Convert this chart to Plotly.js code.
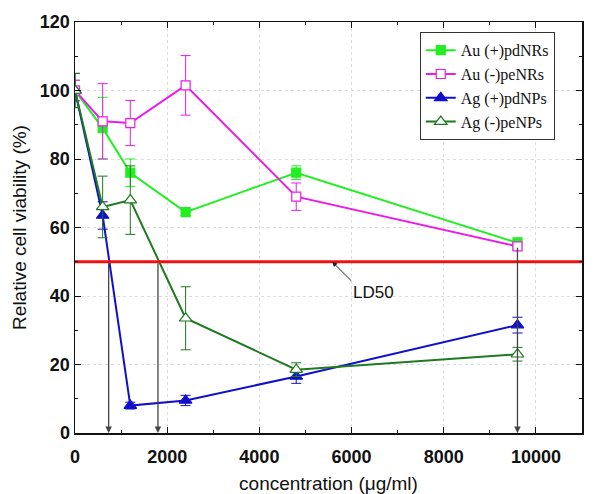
<!DOCTYPE html>
<html><head><meta charset="utf-8">
<script src="https://cdn.plot.ly/plotly-3.0.1.min.js"></script>
<style>body{margin:0;background:#fff}#c{width:600px;height:494px}</style>
</head><body><div id="c"></div>
<script>
const conc = [0, 600, 1200, 2400, 4800, 9600];
const auPlus = [100, 89, 76, 64.5, 76, 55.5];
const auPlusErr = [3, 9, 4, 1, 2, 1.5];
const auMinus = [100, 91, 90.5, 101.5, 69, 54.5];
const auMinusErr = [3, 11, 6.6, 8.7, 4, 1];
const agPlus = [100, 63.5, 8, 9.5, 16.5, 31.5];
const agPlusErr = [5, 4, 1, 1.5, 2, 2.3];
const agMinus = [100, 66, 68, 33.5, 18.5, 23];
const agMinusErr = [5, 9, 10, 9.2, 2, 2];
const ld50 = 50;
const ld50Cross = [730, 1800, 9600];
const ld50Top = [50, 50, 54.5];
const names = ['Au (+)pdNRs', 'Au (-)peNRs', 'Ag (+)pdNPs', 'Ag (-)peNPs'];

function tr(y, e, name, color, symbol, fill) {
  return {x: conc, y: y, name: name, type: 'scatter', mode: 'lines+markers',
    line: {color: color, width: 2},
    marker: {symbol: symbol, size: symbol.indexOf('triangle') === 0 ? 11 : 9, color: fill ? color : '#fff', line: {color: color, width: 1.2}},
    error_y: {type: 'data', array: e, visible: true, color: color, thickness: 1, width: 5}};
}
const data = [
  tr(auPlus, auPlusErr, names[0], '#22ee22', 'square', true),
  tr(auMinus, auMinusErr, names[1], '#e81ee8', 'square', false),
  tr(agPlus, agPlusErr, names[2], '#1010cc', 'triangle-up', true),
  tr(agMinus, agMinusErr, names[3], '#1e7a1e', 'triangle-up', false),
  {x: [0, 11000], y: [ld50, ld50], mode: 'lines', line: {color: '#ee1111', width: 3}, showlegend: false, hoverinfo: 'skip'}
];
const ann = ld50Cross.map((xv, i) => ({x: xv, y: 0, ax: xv, ay: ld50Top[i], xref: 'x', yref: 'y', axref: 'x', ayref: 'y',
  text: '', showarrow: true, arrowhead: 2, arrowsize: 1, arrowwidth: 1.3, arrowcolor: '#444'}));
ann.push({x: 5580, y: 50, ax: 5990, ay: 44.5, xref: 'x', yref: 'y', axref: 'x', ayref: 'y', text: 'LD50',
  showarrow: true, arrowhead: 2, arrowsize: 1, arrowwidth: 1, arrowcolor: '#222', xanchor: 'left', yanchor: 'top',
  font: {family: 'Liberation Sans, Arial', size: 17, color: '#111'}});
const tickFont = {family: 'Liberation Sans, Arial', size: 18, color: '#111', weight: 'bold'};
const layout = {
  width: 600, height: 494, margin: {l: 75, r: 18, t: 22, b: 61},
  paper_bgcolor: '#fff', plot_bgcolor: '#fff', showlegend: true,
  xaxis: {range: [0, 11000], dtick: 2000, tick0: 0, tickformat: 'd', showline: true, linecolor: '#111', linewidth: 1.5, mirror: 'ticks',
    ticks: 'inside', ticklen: 6, tickcolor: '#111', tickfont: tickFont, zeroline: false, ticklabelstandoff: 7,
    showgrid: true, gridcolor: '#ddd', griddash: 'dot',
    minor: {dtick: 1000, ticks: 'inside', ticklen: 3, tickcolor: '#111', showgrid: false},
    title: {text: 'concentration (μg/ml)', font: {family: 'Liberation Sans, Arial', size: 19, color: '#111'}, standoff: 12}},
  yaxis: {range: [0, 120], dtick: 20, showline: true, linecolor: '#111', linewidth: 1.5, mirror: 'ticks',
    ticks: 'inside', ticklen: 6, tickcolor: '#111', tickfont: tickFont, zeroline: false,
    showgrid: true, gridcolor: '#ddd', griddash: 'dot',
    minor: {dtick: 10, ticks: 'inside', ticklen: 3, tickcolor: '#111', showgrid: false},
    title: {text: 'Relative cell viability (%)', font: {family: 'Liberation Sans, Arial', size: 19, color: '#111'}, standoff: 8}},
  legend: {x: 0.68, y: 0.975, xanchor: 'left', yanchor: 'top', bgcolor: '#fff', bordercolor: '#333', borderwidth: 1,
    font: {family: 'Liberation Serif, Times New Roman', size: 16, color: '#111'}, tracegroupgap: 0},
  annotations: ann
};
Plotly.newPlot('c', data, layout, {displayModeBar: false, staticPlot: true});
</script></body></html>
